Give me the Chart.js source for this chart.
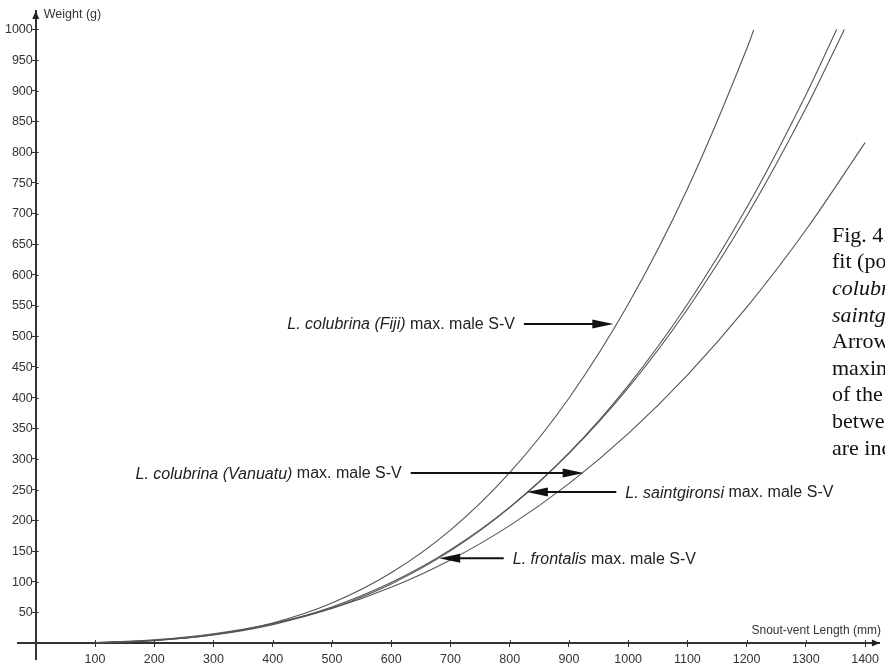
<!DOCTYPE html>
<html>
<head>
<meta charset="utf-8">
<script src="https://cdn.jsdelivr.net/npm/chart.js@4.4.1/dist/chart.umd.min.js"></script>
<style>
  html, body { margin: 0; padding: 0; background: #fff; }
  #wrap { width: 885px; height: 665px; position: relative; }
</style>
</head>
<body>
<div id="wrap"><canvas id="chart"></canvas></div>
<script>
  // tick labels
  const lengthTicks = [100, 200, 300, 400, 500, 600, 700, 800, 900, 1000, 1100, 1200, 1300, 1400];
  const weightTicks = [50, 100, 150, 200, 250, 300, 350, 400, 450, 500, 550, 600, 650, 700, 750, 800, 850, 900, 950, 1000];

  // fitted curves (snout-vent length mm -> weight g)
  const fijiLen      = [100, 200, 300, 400, 500, 600, 700, 800, 900, 1000, 1100, 1200, 1212];
  const fijiWeight   = [0.5, 3.9, 13.5, 32.8, 65.3, 114.5, 184, 277.6, 399, 552, 740, 968, 999];

  const saintLen     = [100, 200, 300, 400, 500, 600, 700, 800, 900, 1000, 1100, 1200, 1300, 1352];
  const saintWeight  = [0.55, 4.05, 13.1, 30.0, 57.0, 96.4, 150.2, 220.7, 309.7, 419.6, 552.2, 709.4, 893.2, 1000];

  const frontLen     = [100, 200, 300, 400, 500, 600, 700, 800, 900, 1000, 1100, 1200, 1300, 1365];
  const frontWeight  = [0.63, 4.45, 14.0, 31.4, 58.9, 98.5, 152.1, 221.6, 309.0, 415.8, 544.0, 695.4, 871.4, 1000];

  const vanuatuLen    = [100, 200, 300, 400, 500, 600, 700, 800, 900, 1000, 1100, 1200, 1300, 1400];
  const vanuatuWeight = [0.9, 5.3, 15.1, 31.8, 56.5, 90.9, 135.5, 191.4, 259.7, 341.2, 436.7, 547, 673.1, 815.5];

  // arrow notes: [italic part, plain part, weight, line start, arrow tip] in data units
  const notes = [
    ['L. colubrina (Fiji)', ' max. male S-V', 520, 824, 975],
    ['L. colubrina (Vanuatu)', ' max. male S-V', 277, 633, 925],
    ['L. saintgironsi', ' max. male S-V', 246, 980, 829],
    ['L. frontalis', ' max. male S-V', 138, 790, 681]
  ];

  const captionLines = [
    ['Fig. 4. Best', false], ['fit (power) curves', false], ['colubrina', true], ['saintgironsi', true],
    ['Arrows indicate', false], ['maximum', false], ['of the', false], ['between', false], ['are indicated', false]
  ];

  const pts = (xs, ys) => xs.map((v, i) => ({ x: v, y: ys[i] }));
  const lineStyle = { borderColor: '#555', borderWidth: 1.1, pointRadius: 0, cubicInterpolationMode: 'monotone', fill: false };

  const SANS = "'Liberation Sans', Arial, sans-serif";
  const AXIS = '#333';

  function arrowHead(ctx, tipX, tipY, dir, len, half) {
    ctx.beginPath();
    ctx.moveTo(tipX, tipY);
    ctx.lineTo(tipX - dir * len, tipY - half);
    ctx.lineTo(tipX - dir * len, tipY + half);
    ctx.closePath();
    ctx.fill();
  }

  const overlay = {
    id: 'overlay',
    afterDraw(chart) {
      const { ctx, chartArea, scales: { x, y } } = chart;
      const x0 = x.getPixelForValue(0), y0 = y.getPixelForValue(0);
      ctx.save();

      // inner half of the tick marks
      ctx.strokeStyle = AXIS;
      ctx.lineWidth = 1;
      ctx.beginPath();
      lengthTicks.forEach(v => { const px = Math.round(x.getPixelForValue(v)) + 0.5; ctx.moveTo(px, y0); ctx.lineTo(px, y0 - 3); });
      weightTicks.forEach(v => { const py = Math.round(y.getPixelForValue(v)) + 0.5; ctx.moveTo(x0, py); ctx.lineTo(x0 + 3, py); });
      ctx.stroke();

      // weight labels, left of the axis
      ctx.fillStyle = AXIS;
      ctx.font = '12.5px ' + SANS;
      ctx.textAlign = 'right';
      ctx.textBaseline = 'middle';
      weightTicks.forEach(v => ctx.fillText(String(v), x0 - 3, y.getPixelForValue(v) + 0.5));

      // axis arrows
      ctx.fillStyle = '#222';
      ctx.beginPath();
      ctx.moveTo(x0, chartArea.top);
      ctx.lineTo(x0 - 3.5, chartArea.top + 8);
      ctx.lineTo(x0 + 3.5, chartArea.top + 8);
      ctx.closePath();
      ctx.fill();
      arrowHead(ctx, chartArea.right, y0, 1, 8, 3.5);

      // axis titles
      ctx.fillStyle = AXIS;
      ctx.font = '12.5px ' + SANS;
      ctx.textAlign = 'left';
      ctx.fillText('Weight (g)', x0 + 8, chartArea.top + 4);
      ctx.font = '12px ' + SANS;
      ctx.textAlign = 'right';
      ctx.fillText('Snout-vent Length (mm)', chartArea.right + 1, y0 - 12);

      // arrow notes
      notes.forEach(([ital, plain, w, from, tip]) => {
        const py = y.getPixelForValue(w);
        const fx = x.getPixelForValue(from), tx = x.getPixelForValue(tip);
        const dir = tx > fx ? 1 : -1;
        ctx.strokeStyle = '#111';
        ctx.fillStyle = '#111';
        ctx.lineWidth = 2;
        ctx.beginPath();
        ctx.moveTo(fx, py);
        ctx.lineTo(tx - dir * 12, py);
        ctx.stroke();
        arrowHead(ctx, tx, py, dir, 21, 4.5);

        ctx.fillStyle = '#222';
        ctx.textAlign = 'left';
        ctx.font = 'italic 16px ' + SANS;
        const wi = ctx.measureText(ital).width;
        ctx.font = '16px ' + SANS;
        const wp = ctx.measureText(plain).width;
        const start = dir > 0 ? fx - 9 - wi - wp : fx + 9;
        ctx.font = 'italic 16px ' + SANS;
        ctx.fillText(ital, start, py + 1);
        ctx.font = '16px ' + SANS;
        ctx.fillText(plain, start + wi, py + 1);
      });

      // figure caption, cut by the right edge
      ctx.fillStyle = '#111';
      captionLines.forEach(([t, it], i) => {
        ctx.font = (it ? 'italic ' : '') + "22px 'Liberation Serif', 'Times New Roman', serif";
        ctx.fillText(t, 832, 236 + i * 26.6);
      });
      ctx.restore();
    }
  };

  new Chart(document.getElementById('chart'), {
    type: 'line',
    data: {
      datasets: [
        { label: 'L. colubrina (Fiji)', data: pts(fijiLen, fijiWeight), ...lineStyle },
        { label: 'L. saintgironsi', data: pts(saintLen, saintWeight), ...lineStyle },
        { label: 'L. frontalis', data: pts(frontLen, frontWeight), ...lineStyle },
        { label: 'L. colubrina (Vanuatu)', data: pts(vanuatuLen, vanuatuWeight), ...lineStyle }
      ]
    },
    options: {
      responsive: true,
      maintainAspectRatio: false,
      animation: false,
      events: [],
      layout: { padding: { left: 18, right: 0, top: 11, bottom: 6 } },
      plugins: { legend: { display: false }, tooltip: { enabled: false } },
      scales: {
        x: {
          type: 'linear', min: -30, max: 1425, position: { y: 0 },
          grid: { drawOnChartArea: false, tickLength: 3, color: AXIS },
          border: { color: AXIS, width: 2 },
          ticks: { color: AXIS, font: { family: SANS, size: 12.5 }, padding: 6, autoSkip: false, maxRotation: 0, callback: v => String(v) },
          afterBuildTicks: ax => { ax.ticks = lengthTicks.map(v => ({ value: v })); }
        },
        y: {
          type: 'linear', min: -26, max: 1030, position: { x: 0 },
          grid: { drawOnChartArea: false, tickLength: 3, color: AXIS },
          border: { color: AXIS, width: 2 },
          ticks: { display: false },
          afterBuildTicks: ax => { ax.ticks = weightTicks.map(v => ({ value: v })); }
        }
      }
    },
    plugins: [overlay]
  });
</script>
</body>
</html>
